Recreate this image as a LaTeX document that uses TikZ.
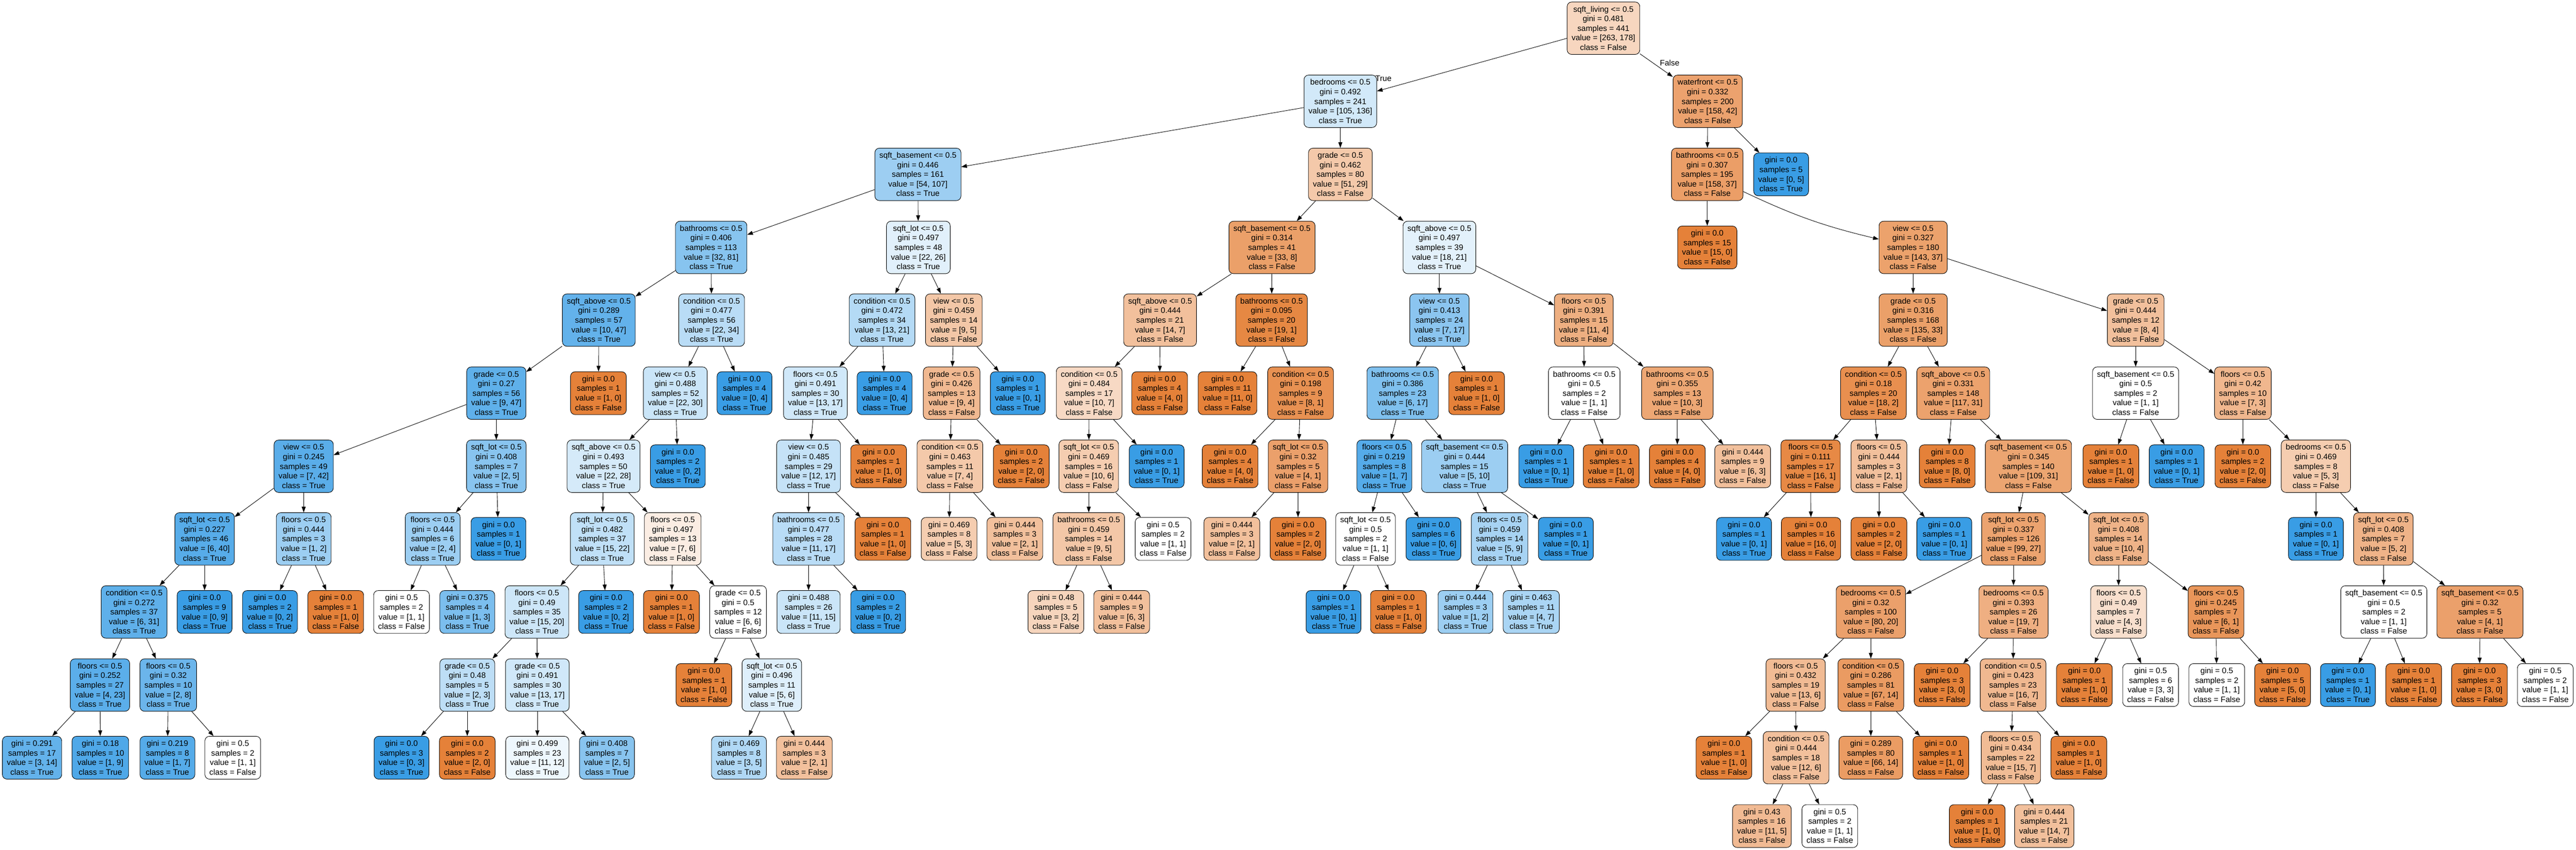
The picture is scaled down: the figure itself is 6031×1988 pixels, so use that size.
\documentclass[tikz,border=0pt]{standalone}
\usepackage{fontspec}
\setmainfont{Liberation Sans}
\usetikzlibrary{arrows.meta}
\definecolor{cfalse}{RGB}{229,129,57}
\definecolor{ctrue}{RGB}{57,157,229}
\tikzset{
  dtbox/.style={draw, line width=0.8pt, rounded corners=8pt, align=center, inner xsep=7.9pt, inner ysep=4pt, font=\fontsize{14}{16.8}\selectfont},
  splitbox/.style={dtbox, minimum height=92pt},
  leafbox/.style={dtbox, minimum height=75.2pt},
  arr/.style={-{Triangle[length=10pt,width=7pt]}, line width=0.8pt},
  elabel/.style={inner sep=0pt, font=\fontsize{14}{16.8}\selectfont}
}
\newcommand{\splitnode}[7]{\pgfmathsetmacro\fillpct{100*(1-min(#6,#7)/max(#6,#7))}\ifnum#6<#7\relax\def\fillbase{ctrue}\def\clsname{True}\else\def\fillbase{cfalse}\def\clsname{False}\fi \node[splitbox, fill=\fillbase!\fillpct!white] (#1) at (#2,#3) {#4 <= 0.5\\gini = #5\\samples = \the\numexpr#6+#7\relax\\value = [#6, #7]\\class = \clsname};}
\newcommand{\leafnode}[6]{\pgfmathsetmacro\fillpct{100*(1-min(#5,#6)/max(#5,#6))}\ifnum#5<#6\relax\def\fillbase{ctrue}\def\clsname{True}\else\def\fillbase{cfalse}\def\clsname{False}\fi \node[leafbox, fill=\fillbase!\fillpct!white] (#1) at (#2,#3) {gini = #4\\samples = \the\numexpr#5+#6\relax\\value = [#5, #6]\\class = \clsname};}

\begin{document}
\begin{tikzpicture}[x=0.75pt, y=-0.75pt]
        \useasboundingbox (0,0) rectangle (6031,1988);
        % level 0
        \splitnode{n0}{3754}{66}{sqft\_living}{0.481}{263}{178}
        % level 1
        \splitnode{n1}{3138}{237}{bedrooms}{0.492}{105}{136}
        \splitnode{n102}{3998}{237}{waterfront}{0.332}{158}{42}
        % level 2
        \splitnode{n2}{2149}{408}{sqft\_basement}{0.446}{54}{107}
        \splitnode{n63}{3138}{408}{grade}{0.462}{51}{29}
        \splitnode{n103}{3997}{408}{bathrooms}{0.307}{158}{37}
        \leafnode{n156}{4170}{408}{0.0}{0}{5}
        % level 3
        \splitnode{n3}{1665}{579}{bathrooms}{0.406}{32}{81}
        \splitnode{n46}{2150}{579}{sqft\_lot}{0.497}{22}{26}
        \splitnode{n64}{2978}{579}{sqft\_basement}{0.314}{33}{8}
        \splitnode{n81}{3370}{579}{sqft\_above}{0.497}{18}{21}
        \leafnode{n104}{3997}{579}{0.0}{15}{0}
        \splitnode{n105}{4479}{579}{view}{0.327}{143}{37}
        % level 4
        \splitnode{n4}{1402}{749}{sqft\_above}{0.289}{10}{47}
        \splitnode{n25}{1666}{749}{condition}{0.477}{22}{34}
        \splitnode{n47}{2065}{749}{condition}{0.472}{13}{21}
        \splitnode{n56}{2233}{749}{view}{0.459}{9}{5}
        \splitnode{n65}{2716}{749}{sqft\_above}{0.444}{14}{7}
        \splitnode{n74}{2977}{749}{bathrooms}{0.095}{19}{1}
        \splitnode{n82}{3370}{749}{view}{0.413}{7}{17}
        \splitnode{n95}{3708}{749}{floors}{0.391}{11}{4}
        \splitnode{n106}{4479}{749}{grade}{0.316}{135}{33}
        \splitnode{n141}{5000}{749}{grade}{0.444}{8}{4}
        % level 5
        \splitnode{n5}{1162}{920}{grade}{0.27}{9}{47}
        \leafnode{n24}{1401}{920}{0.0}{1}{0}
        \splitnode{n26}{1581}{920}{view}{0.488}{22}{30}
        \leafnode{n45}{1743}{920}{0.0}{0}{4}
        \splitnode{n48}{1909}{920}{floors}{0.491}{13}{17}
        \leafnode{n55}{2071}{920}{0.0}{0}{4}
        \splitnode{n57}{2228}{920}{grade}{0.426}{9}{4}
        \leafnode{n62}{2383}{920}{0.0}{0}{1}
        \splitnode{n66}{2550}{920}{condition}{0.484}{10}{7}
        \leafnode{n73}{2715}{920}{0.0}{4}{0}
        \leafnode{n75}{2874}{920}{0.0}{11}{0}
        \splitnode{n76}{3045}{920}{condition}{0.198}{8}{1}
        \splitnode{n83}{3284}{920}{bathrooms}{0.386}{6}{17}
        \leafnode{n94}{3457}{920}{0.0}{1}{0}
        \splitnode{n96}{3709}{920}{bathrooms}{0.5}{1}{1}
        \splitnode{n99}{3927}{920}{bathrooms}{0.355}{10}{3}
        \splitnode{n107}{4386}{920}{condition}{0.18}{18}{2}
        \splitnode{n114}{4573}{920}{sqft\_above}{0.331}{117}{31}
        \splitnode{n142}{5000}{920}{sqft\_basement}{0.5}{1}{1}
        \splitnode{n145}{5251}{920}{floors}{0.42}{7}{3}
        % level 6
        \splitnode{n6}{711}{1091}{view}{0.245}{7}{42}
        \splitnode{n19}{1162}{1091}{sqft\_lot}{0.408}{2}{5}
        \splitnode{n27}{1413}{1091}{sqft\_above}{0.493}{22}{28}
        \leafnode{n44}{1587}{1091}{0.0}{0}{2}
        \splitnode{n49}{1893}{1091}{view}{0.485}{12}{17}
        \leafnode{n54}{2057}{1091}{0.0}{1}{0}
        \splitnode{n58}{2224}{1091}{condition}{0.463}{7}{4}
        \leafnode{n61}{2391}{1091}{0.0}{2}{0}
        \splitnode{n67}{2549}{1091}{sqft\_lot}{0.469}{10}{6}
        \leafnode{n72}{2708}{1091}{0.0}{0}{1}
        \leafnode{n77}{2880}{1091}{0.0}{4}{0}
        \splitnode{n78}{3039}{1091}{sqft\_lot}{0.32}{4}{1}
        \splitnode{n84}{3241}{1091}{floors}{0.219}{1}{7}
        \splitnode{n89}{3429}{1091}{sqft\_basement}{0.444}{5}{10}
        \leafnode{n97}{3620}{1091}{0.0}{0}{1}
        \leafnode{n98}{3772}{1091}{0.0}{1}{0}
        \leafnode{n100}{3927}{1091}{0.0}{4}{0}
        \leafnode{n101}{4080}{1091}{0.444}{6}{3}
        \splitnode{n108}{4239}{1091}{floors}{0.111}{16}{1}
        \splitnode{n111}{4399}{1091}{floors}{0.444}{2}{1}
        \leafnode{n115}{4559}{1091}{0.0}{8}{0}
        \splitnode{n116}{4749}{1091}{sqft\_basement}{0.345}{109}{31}
        \leafnode{n143}{4942}{1091}{0.0}{1}{0}
        \leafnode{n144}{5096}{1091}{0.0}{0}{1}
        \leafnode{n146}{5251}{1091}{0.0}{2}{0}
        \splitnode{n147}{5422}{1091}{bedrooms}{0.469}{5}{3}
        % level 7
        \splitnode{n7}{479}{1261}{sqft\_lot}{0.227}{6}{40}
        \splitnode{n16}{711}{1261}{floors}{0.444}{1}{2}
        \splitnode{n20}{1013}{1261}{floors}{0.444}{2}{4}
        \leafnode{n23}{1167}{1261}{0.0}{0}{1}
        \splitnode{n28}{1410}{1261}{sqft\_lot}{0.482}{15}{22}
        \splitnode{n37}{1575}{1261}{floors}{0.497}{7}{6}
        \splitnode{n50}{1893}{1261}{bathrooms}{0.477}{11}{17}
        \leafnode{n53}{2067}{1261}{0.0}{1}{0}
        \leafnode{n59}{2222}{1261}{0.469}{5}{3}
        \leafnode{n60}{2376}{1261}{0.444}{2}{1}
        \splitnode{n68}{2549}{1261}{bathrooms}{0.459}{9}{5}
        \leafnode{n71}{2723}{1261}{0.5}{1}{1}
        \leafnode{n79}{2884}{1261}{0.444}{2}{1}
        \leafnode{n80}{3039}{1261}{0.0}{2}{0}
        \splitnode{n85}{3197}{1261}{sqft\_lot}{0.5}{1}{1}
        \leafnode{n88}{3356}{1261}{0.0}{0}{6}
        \splitnode{n90}{3511}{1261}{floors}{0.459}{5}{9}
        \leafnode{n93}{3666}{1261}{0.0}{0}{1}
        \leafnode{n109}{4083}{1261}{0.0}{0}{1}
        \leafnode{n110}{4240}{1261}{0.0}{16}{0}
        \leafnode{n112}{4399}{1261}{0.0}{2}{0}
        \leafnode{n113}{4552}{1261}{0.0}{0}{1}
        \splitnode{n117}{4714}{1261}{sqft\_lot}{0.337}{99}{27}
        \splitnode{n134}{4960}{1261}{sqft\_lot}{0.408}{10}{4}
        \leafnode{n148}{5422}{1261}{0.0}{0}{1}
        \splitnode{n149}{5580}{1261}{sqft\_lot}{0.408}{5}{2}
        % level 8
        \splitnode{n8}{314}{1432}{condition}{0.272}{6}{31}
        \leafnode{n15}{479}{1432}{0.0}{0}{9}
        \leafnode{n17}{632}{1432}{0.0}{0}{2}
        \leafnode{n18}{786}{1432}{0.0}{1}{0}
        \leafnode{n21}{940}{1432}{0.5}{1}{1}
        \leafnode{n22}{1094}{1432}{0.375}{1}{3}
        \splitnode{n29}{1257}{1432}{floors}{0.49}{15}{20}
        \leafnode{n36}{1419}{1432}{0.0}{0}{2}
        \leafnode{n38}{1572}{1432}{0.0}{1}{0}
        \splitnode{n39}{1728}{1432}{grade}{0.5}{6}{6}
        \leafnode{n51}{1893}{1432}{0.488}{11}{15}
        \leafnode{n52}{2056}{1432}{0.0}{0}{2}
        \leafnode{n69}{2472}{1432}{0.48}{3}{2}
        \leafnode{n70}{2626}{1432}{0.444}{6}{3}
        \leafnode{n86}{3122}{1432}{0.0}{0}{1}
        \leafnode{n87}{3274}{1432}{0.0}{1}{0}
        \leafnode{n91}{3431}{1432}{0.444}{1}{2}
        \leafnode{n92}{3585}{1432}{0.463}{4}{7}
        \splitnode{n118}{4380}{1432}{bedrooms}{0.32}{80}{20}
        \splitnode{n127}{4714}{1432}{bedrooms}{0.393}{19}{7}
        \splitnode{n135}{4960}{1432}{floors}{0.49}{4}{3}
        \splitnode{n138}{5188}{1432}{floors}{0.245}{6}{1}
        \splitnode{n150}{5581}{1432}{sqft\_basement}{0.5}{1}{1}
        \splitnode{n153}{5806}{1432}{sqft\_basement}{0.32}{4}{1}
        % level 9
        \splitnode{n9}{234}{1603}{floors}{0.252}{4}{23}
        \splitnode{n12}{394}{1603}{floors}{0.32}{2}{8}
        \splitnode{n30}{1094}{1603}{grade}{0.48}{2}{3}
        \splitnode{n33}{1258}{1603}{grade}{0.491}{13}{17}
        \leafnode{n40}{1648}{1603}{0.0}{1}{0}
        \splitnode{n41}{1807}{1603}{sqft\_lot}{0.496}{5}{6}
        \splitnode{n119}{4204}{1603}{floors}{0.432}{13}{6}
        \splitnode{n124}{4380}{1603}{condition}{0.286}{67}{14}
        \leafnode{n128}{4547}{1603}{0.0}{3}{0}
        \splitnode{n129}{4713}{1603}{condition}{0.423}{16}{7}
        \leafnode{n136}{4880}{1603}{0.0}{1}{0}
        \leafnode{n137}{5035}{1603}{0.5}{3}{3}
        \leafnode{n139}{5190}{1603}{0.5}{1}{1}
        \leafnode{n140}{5344}{1603}{0.0}{5}{0}
        \leafnode{n151}{5497}{1603}{0.0}{0}{1}
        \leafnode{n152}{5651}{1603}{0.0}{1}{0}
        \leafnode{n154}{5805}{1603}{0.0}{3}{0}
        \leafnode{n155}{5959}{1603}{0.5}{1}{1}
        % level 10
        \leafnode{n10}{75}{1773}{0.291}{3}{14}
        \leafnode{n11}{235}{1773}{0.18}{1}{9}
        \leafnode{n13}{392}{1773}{0.219}{1}{7}
        \leafnode{n14}{545}{1773}{0.5}{1}{1}
        \leafnode{n31}{940}{1773}{0.0}{0}{3}
        \leafnode{n32}{1094}{1773}{0.0}{2}{0}
        \leafnode{n34}{1258}{1773}{0.499}{11}{12}
        \leafnode{n35}{1421}{1773}{0.408}{2}{5}
        \leafnode{n42}{1730}{1773}{0.469}{3}{5}
        \leafnode{n43}{1883}{1773}{0.444}{2}{1}
        \leafnode{n120}{4036}{1773}{0.0}{1}{0}
        \splitnode{n121}{4205}{1773}{condition}{0.444}{12}{6}
        \leafnode{n125}{4380}{1773}{0.289}{66}{14}
        \leafnode{n126}{4544}{1773}{0.0}{1}{0}
        \splitnode{n130}{4708}{1773}{floors}{0.434}{15}{7}
        \leafnode{n133}{4867}{1773}{0.0}{1}{0}
        % level 11
        \leafnode{n122}{4125}{1933}{0.43}{11}{5}
        \leafnode{n123}{4284}{1933}{0.5}{1}{1}
        \leafnode{n131}{4629}{1933}{0.0}{1}{0}
        \leafnode{n132}{4786}{1933}{0.444}{14}{7}
        % edges
        \draw[arr] (n0) -- (n1); \draw[arr] (n0) -- (n102);
        \node[elabel] (ltrue) at (3239,184) {True};
        \node[elabel] (lfalse) at (3909,147) {False};
        \draw[arr] (n1) -- (n2); \draw[arr] (n1) -- (n63);
        \draw[arr] (n2) -- (n3); \draw[arr] (n2) -- (n46);
        \draw[arr] (n3) -- (n4); \draw[arr] (n3) -- (n25);
        \draw[arr] (n4) -- (n5); \draw[arr] (n4) -- (n24);
        \draw[arr] (n5) -- (n6); \draw[arr] (n5) -- (n19);
        \draw[arr] (n6) -- (n7); \draw[arr] (n6) -- (n16);
        \draw[arr] (n7) -- (n8); \draw[arr] (n7) -- (n15);
        \draw[arr] (n8) -- (n9); \draw[arr] (n8) -- (n12);
        \draw[arr] (n9) -- (n10); \draw[arr] (n9) -- (n11);
        \draw[arr] (n12) -- (n13); \draw[arr] (n12) -- (n14);
        \draw[arr] (n16) -- (n17); \draw[arr] (n16) -- (n18);
        \draw[arr] (n19) -- (n20); \draw[arr] (n19) -- (n23);
        \draw[arr] (n20) -- (n21); \draw[arr] (n20) -- (n22);
        \draw[arr] (n25) -- (n26); \draw[arr] (n25) -- (n45);
        \draw[arr] (n26) -- (n27); \draw[arr] (n26) -- (n44);
        \draw[arr] (n27) -- (n28); \draw[arr] (n27) -- (n37);
        \draw[arr] (n28) -- (n29); \draw[arr] (n28) -- (n36);
        \draw[arr] (n29) -- (n30); \draw[arr] (n29) -- (n33);
        \draw[arr] (n30) -- (n31); \draw[arr] (n30) -- (n32);
        \draw[arr] (n33) -- (n34); \draw[arr] (n33) -- (n35);
        \draw[arr] (n37) -- (n38); \draw[arr] (n37) -- (n39);
        \draw[arr] (n39) -- (n40); \draw[arr] (n39) -- (n41);
        \draw[arr] (n41) -- (n42); \draw[arr] (n41) -- (n43);
        \draw[arr] (n46) -- (n47); \draw[arr] (n46) -- (n56);
        \draw[arr] (n47) -- (n48); \draw[arr] (n47) -- (n55);
        \draw[arr] (n48) -- (n49); \draw[arr] (n48) -- (n54);
        \draw[arr] (n49) -- (n50); \draw[arr] (n49) -- (n53);
        \draw[arr] (n50) -- (n51); \draw[arr] (n50) -- (n52);
        \draw[arr] (n56) -- (n57); \draw[arr] (n56) -- (n62);
        \draw[arr] (n57) -- (n58); \draw[arr] (n57) -- (n61);
        \draw[arr] (n58) -- (n59); \draw[arr] (n58) -- (n60);
        \draw[arr] (n63) -- (n64); \draw[arr] (n63) -- (n81);
        \draw[arr] (n64) -- (n65); \draw[arr] (n64) -- (n74);
        \draw[arr] (n65) -- (n66); \draw[arr] (n65) -- (n73);
        \draw[arr] (n66) -- (n67); \draw[arr] (n66) -- (n72);
        \draw[arr] (n67) -- (n68); \draw[arr] (n67) -- (n71);
        \draw[arr] (n68) -- (n69); \draw[arr] (n68) -- (n70);
        \draw[arr] (n74) -- (n75); \draw[arr] (n74) -- (n76);
        \draw[arr] (n76) -- (n77); \draw[arr] (n76) -- (n78);
        \draw[arr] (n78) -- (n79); \draw[arr] (n78) -- (n80);
        \draw[arr] (n81) -- (n82); \draw[arr] (n81) -- (n95);
        \draw[arr] (n82) -- (n83); \draw[arr] (n82) -- (n94);
        \draw[arr] (n83) -- (n84); \draw[arr] (n83) -- (n89);
        \draw[arr] (n84) -- (n85); \draw[arr] (n84) -- (n88);
        \draw[arr] (n85) -- (n86); \draw[arr] (n85) -- (n87);
        \draw[arr] (n89) -- (n90); \draw[arr] (n89) -- (n93);
        \draw[arr] (n90) -- (n91); \draw[arr] (n90) -- (n92);
        \draw[arr] (n95) -- (n96); \draw[arr] (n95) -- (n99);
        \draw[arr] (n96) -- (n97); \draw[arr] (n96) -- (n98);
        \draw[arr] (n99) -- (n100); \draw[arr] (n99) -- (n101);
        \draw[arr] (n102) -- (n103); \draw[arr] (n102) -- (n156);
        \draw[arr] (n103) -- (n104); \draw[arr] (n103) to[bend right=6] (n105);
        \draw[arr] (n105) -- (n106); \draw[arr] (n105) -- (n141);
        \draw[arr] (n106) -- (n107); \draw[arr] (n106) -- (n114);
        \draw[arr] (n107) -- (n108); \draw[arr] (n107) -- (n111);
        \draw[arr] (n108) -- (n109); \draw[arr] (n108) -- (n110);
        \draw[arr] (n111) -- (n112); \draw[arr] (n111) -- (n113);
        \draw[arr] (n114) -- (n115); \draw[arr] (n114) -- (n116);
        \draw[arr] (n116) -- (n117); \draw[arr] (n116) -- (n134);
        \draw[arr] (n117) -- (n118); \draw[arr] (n117) -- (n127);
        \draw[arr] (n118) -- (n119); \draw[arr] (n118) -- (n124);
        \draw[arr] (n119) -- (n120); \draw[arr] (n119) -- (n121);
        \draw[arr] (n121) -- (n122); \draw[arr] (n121) -- (n123);
        \draw[arr] (n124) -- (n125); \draw[arr] (n124) -- (n126);
        \draw[arr] (n127) -- (n128); \draw[arr] (n127) -- (n129);
        \draw[arr] (n129) -- (n130); \draw[arr] (n129) -- (n133);
        \draw[arr] (n130) -- (n131); \draw[arr] (n130) -- (n132);
        \draw[arr] (n134) -- (n135); \draw[arr] (n134) -- (n138);
        \draw[arr] (n135) -- (n136); \draw[arr] (n135) -- (n137);
        \draw[arr] (n138) -- (n139); \draw[arr] (n138) -- (n140);
        \draw[arr] (n141) -- (n142); \draw[arr] (n141) -- (n145);
        \draw[arr] (n142) -- (n143); \draw[arr] (n142) -- (n144);
        \draw[arr] (n145) -- (n146); \draw[arr] (n145) -- (n147);
        \draw[arr] (n147) -- (n148); \draw[arr] (n147) -- (n149);
        \draw[arr] (n149) -- (n150); \draw[arr] (n149) -- (n153);
        \draw[arr] (n150) -- (n151); \draw[arr] (n150) -- (n152);
        \draw[arr] (n153) -- (n154); \draw[arr] (n153) -- (n155);
\end{tikzpicture}
\end{document}
